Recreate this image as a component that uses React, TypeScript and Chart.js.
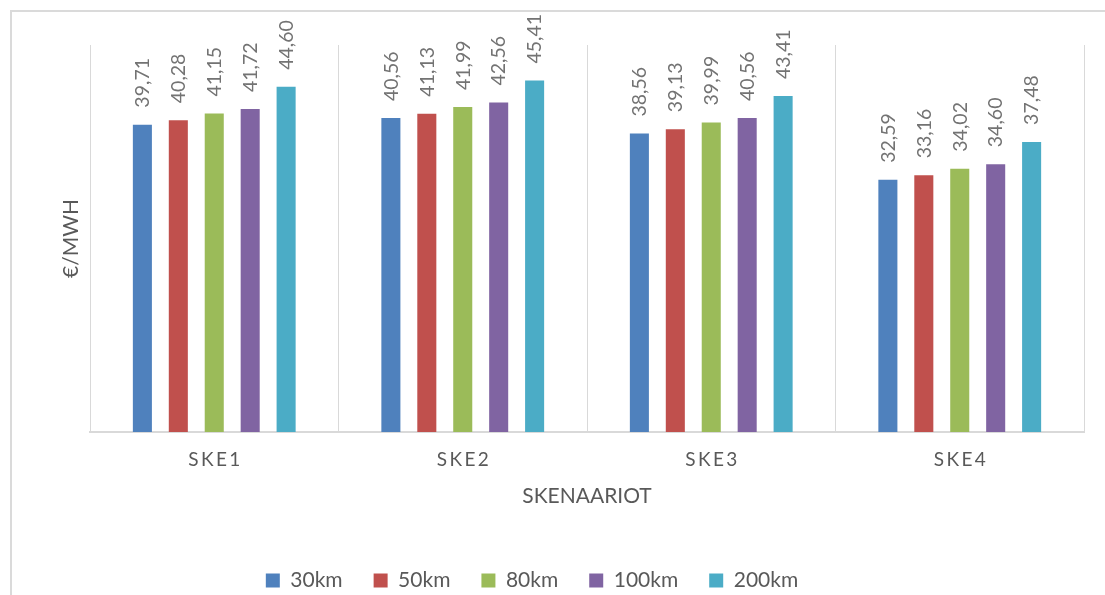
import React, { useEffect, useRef } from "react";
import { Chart, registerables } from "chart.js";

Chart.register(...registerables);

const categories = ["SKE1", "SKE2", "SKE3", "SKE4"];
const seriesNames = ["30km", "50km", "80km", "100km", "200km"];
const values30 = [39.71, 40.56, 38.56, 32.59];
const values50 = [40.28, 41.13, 39.13, 33.16];
const values80 = [41.15, 41.99, 39.99, 34.02];
const values100 = [41.72, 42.56, 40.56, 34.6];
const values200 = [44.6, 45.41, 43.41, 37.48];
const colors = ["#4F81BD", "#C0504D", "#9BBB59", "#8064A2", "#4BACC6"];
const yTitle = "€/MWH";
const xTitle = "SKENAARIOT";

const FONT = "Lato, 'Open Sans', sans-serif";
const W = 1125;
const H = 620;

const valueLabels = {
  id: "valueLabels",
  afterDatasetsDraw(chart: any) {
    const ctx = chart.ctx;
    ctx.save();
    ctx.font = "normal 400 19.5px Lato";
    ctx.fillStyle = "#737373";
    ctx.textAlign = "left";
    ctx.textBaseline = "middle";
    chart.data.datasets.forEach((ds: any, di: number) => {
      const meta = chart.getDatasetMeta(di);
      meta.data.forEach((bar: any, i: number) => {
        const v = ds.data[i] as number;
        const txt = v.toFixed(2).replace(".", ",");
        ctx.save();
        ctx.translate(bar.x + 0.5, bar.y - 17);
        ctx.rotate(-Math.PI / 2);
        ctx.fillText(txt, 0, 0);
        ctx.restore();
      });
    });
    ctx.restore();
  },
};

export default function App() {
  const ref = useRef<HTMLCanvasElement | null>(null);
  useEffect(() => {
    if (!ref.current) return;
    const all = [values30, values50, values80, values100, values200];
    const chart = new Chart(ref.current, {
      type: "bar",
      data: {
        labels: categories,
        datasets: all.map((d, i) => ({
          label: seriesNames[i],
          data: d,
          backgroundColor: colors[i],
          borderWidth: 0,
          categoryPercentage: 0.723,
          barPercentage: 0.53,
        })),
      },
      options: {
        responsive: false,
        animation: false,
        devicePixelRatio: 1,
        layout: { padding: { left: 0, right: 21, top: 45, bottom: H - 601 } },
        plugins: {
          tooltip: { enabled: false },
          legend: {
            position: "bottom",
            labels: {
              font: { family: FONT, size: 21 },
              color: "#595959",
              boxWidth: 14,
              boxHeight: 14,
              padding: 31,
            },
          },
        },
        scales: {
          x: {
            grid: { display: true, drawTicks: false, color: "#d9d9d9", lineWidth: 1 },
            border: { display: true, color: "#d9d9d9", width: 2 },
            ticks: {
              padding: 16.6,
              color: "#595959",
              font: { family: FONT, size: 19 },
              callback: (_v: any, i: number) => categories[i].split("").join("\u2009"),
            },
            title: {
              display: true,
              text: xTitle,
              color: "#595959",
              font: { family: FONT, size: 21 },
              padding: { top: 0, bottom: 30.4 },
            },
            afterFit: (s: any) => {
              s.height = 107;
            },
          },
          y: {
            min: 0,
            max: 50,
            ticks: { display: false },
            grid: { display: false },
            border: { display: false },
            title: {
              display: true,
              text: yTitle,
              color: "#595959",
              font: { family: FONT, size: 21 },
              padding: { top: 78.4, bottom: 0 },
            },
            afterFit: (s: any) => {
              s.width = 110;
            },
          },
        },
      },
      plugins: [valueLabels],
    });
    return () => chart.destroy();
  }, []);

  return (
    <div
      style={{
        position: "fixed",
        left: 0,
        top: 0,
        width: 1105,
        height: 595,
        overflow: "hidden",
        background: "#fff",
      }}
    >
      <div
        style={{
          position: "absolute",
          left: 10,
          top: 10,
          width: 1120,
          height: 620,
          borderTop: "2px solid #dadada",
          borderLeft: "2px solid #dadada",
        }}
      />
      <div style={{ position: "absolute", left: -20, top: 0, width: W, height: H }}>
        <canvas ref={ref} width={W} height={H} style={{ width: W, height: H }} />
      </div>
    </div>
  );
}
